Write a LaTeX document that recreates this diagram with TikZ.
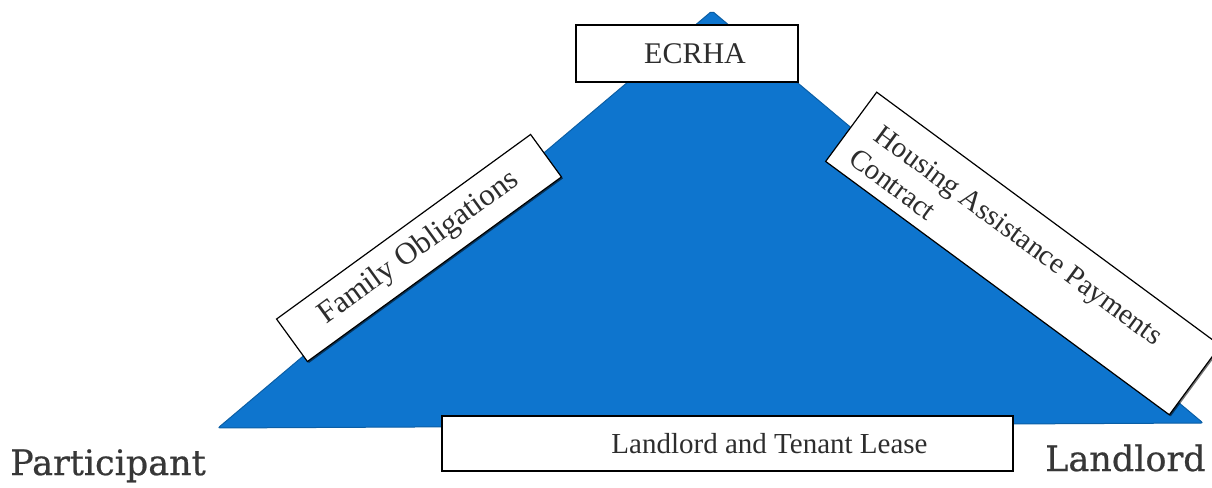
\documentclass[tikz,border=0pt]{standalone}
\usepackage{fontspec}
\setmainfont{Liberation Serif}
\newfontfamily\labelfont[FakeBold=0.6]{DejaVu Serif}
\usetikzlibrary{shadows,calc}
\definecolor{triblue}{RGB}{14,117,206}
\definecolor{txtgray}{RGB}{45,45,45}
\definecolor{lblgray}{RGB}{55,55,55}
\begin{document}
\begin{tikzpicture}[x=1pt,y=1pt,
  tri/.style={fill=triblue, draw=triblue!80!black, line width=1pt, rounded corners=2pt},
  box/.style={draw=black, fill=white, line width=1.2pt, inner sep=0pt},
  shadowed/.style={drop shadow={shadow xshift=1.5pt, shadow yshift=-1.5pt, fill=black, opacity=0.55}},
  boxtext/.style={font=\fontsize{29}{34}\selectfont, text=txtgray},
  corner/.style={font=\labelfont\fontsize{35}{40}\selectfont, text=lblgray, inner sep=0pt}
]
\useasboundingbox (0,0) rectangle (1212,487);
\fill[white] (0,0) rectangle (1212,487);
\coordinate (apex) at (712,476);
\coordinate (bl) at (218,59);
\coordinate (br) at (1203,64);
\draw[tri] (apex) -- (br) -- (bl) -- cycle;

\node[box, boxtext, font=\fontsize{30}{35}\selectfont, minimum width=222, minimum height=57] (ecrha) at (687,433.5) {\hspace*{16pt}ECRHA};
\node[box, boxtext, minimum width=571, minimum height=55] (lease) at (727.5,43.5) {\hspace*{84pt}Landlord and Tenant Lease};
\node[box, boxtext, font=\fontsize{31}{35}\selectfont, shadowed, rotate=36, minimum width=314, minimum height=52.5] (fam) at (419,239) {Family Obligations};

\begin{scope}[shift={(1023,233.5)}, rotate=-36.4, transform shape]
  \node[box, shadowed, minimum width=427, minimum height=86] (hap) at (0,0) {};
  \node[boxtext, anchor=base west, align=left, inner sep=0pt] (hapt) at (-196,-31) {\hspace*{7pt}Housing Assistance Payments\\Contract};
\end{scope}

\node[corner, anchor=base west] (part) at (10,12) {Participant};
\node[corner, anchor=base west] (land) at (1045,16) {Landlord};
\end{tikzpicture}
\end{document}
